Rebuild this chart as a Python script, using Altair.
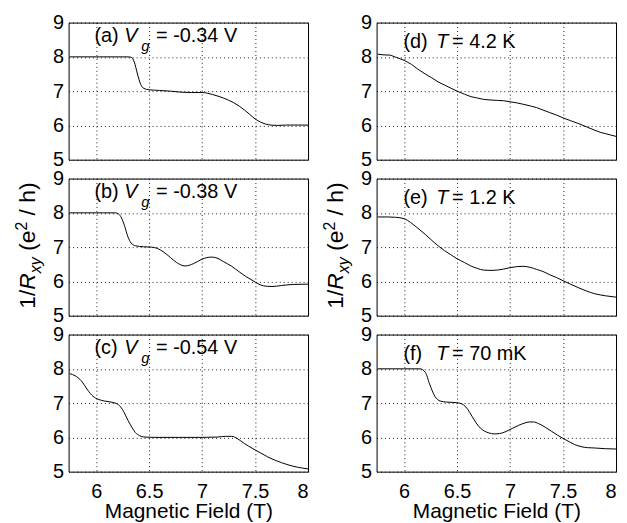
import altair as alt
import pandas as pd

FONT = "Liberation Sans"
NB = "\u00a0"

# ---------------- data ----------------
# (a) Vg = -0.34 V
B_a = [5.75, 6.0, 6.2, 6.3, 6.33, 6.36, 6.39, 6.42, 6.45, 6.5, 6.6, 6.7, 6.8, 6.9, 7.0,
       7.05, 7.1, 7.2, 7.3, 7.4, 7.45, 7.5, 7.55, 7.6, 7.65, 7.7, 7.8, 8.0]
G_a = [8.0, 8.0, 8.0, 8.0, 7.99, 7.85, 7.5, 7.2, 7.08, 7.04, 7.02, 7.0, 6.97, 6.96, 6.96,
       6.94, 6.9, 6.8, 6.66, 6.45, 6.32, 6.19, 6.1, 6.04, 6.01, 6.0, 6.01, 6.01]
# (b) Vg = -0.38 V
B_b = [5.75, 6.0, 6.18, 6.21, 6.24, 6.27, 6.3, 6.33, 6.37, 6.45, 6.52, 6.58, 6.64, 6.7, 6.76,
       6.84, 6.92, 7.0, 7.09, 7.15, 7.2, 7.28, 7.35, 7.42, 7.48, 7.53, 7.58, 7.66, 7.75, 7.85, 8.0]
G_b = [8.0, 8.0, 8.0, 7.97, 7.85, 7.6, 7.3, 7.12, 7.04, 7.01, 7.0, 6.96, 6.85, 6.7, 6.55,
       6.45, 6.52, 6.65, 6.71, 6.67, 6.58, 6.44, 6.28, 6.13, 6.02, 5.93, 5.87, 5.85, 5.88, 5.91, 5.92]
# (c) Vg = -0.54 V
B_c = [5.75, 5.8, 5.86, 5.92, 5.97, 6.02, 6.08, 6.14, 6.18, 6.22, 6.26, 6.3, 6.34, 6.37, 6.41,
       6.45, 6.55, 6.8, 7.0, 7.15, 7.22, 7.28, 7.33, 7.4, 7.48, 7.55, 7.62, 7.7, 7.8, 7.9, 8.0]
G_c = [7.86, 7.8, 7.65, 7.38, 7.2, 7.11, 7.06, 7.03, 7.0, 6.93, 6.75, 6.5, 6.28, 6.14, 6.05,
       6.01, 6.0, 6.0, 6.0, 6.01, 6.03, 6.03, 5.97, 5.82, 5.67, 5.55, 5.43, 5.32, 5.21, 5.13, 5.08]
# (d) T = 4.2 K
B_d = [5.75, 5.8, 5.87, 5.93, 6.0, 6.07, 6.13, 6.2, 6.26, 6.32, 6.38, 6.44, 6.5, 6.57, 6.63,
       6.69, 6.75, 6.82, 6.88, 6.94, 7.0, 7.06, 7.12, 7.19, 7.25, 7.31, 7.37, 7.44, 7.5, 7.57,
       7.65, 7.72, 7.8, 7.85, 7.9, 7.95, 8.0]
G_d = [8.08, 8.06, 8.05, 7.98, 7.9, 7.78, 7.64, 7.5, 7.39, 7.27, 7.18, 7.09, 7.0, 6.91, 6.84,
       6.8, 6.76, 6.74, 6.73, 6.72, 6.69, 6.66, 6.62, 6.57, 6.52, 6.45, 6.38, 6.3, 6.22, 6.14,
       6.05, 5.96, 5.86, 5.8, 5.76, 5.72, 5.68]
# (e) T = 1.2 K
B_e = [5.75, 5.85, 5.92, 6.0, 6.06, 6.13, 6.2, 6.26, 6.32, 6.38, 6.44, 6.5, 6.57, 6.63, 6.69,
       6.75, 6.82, 6.88, 6.94, 7.0, 7.06, 7.12, 7.19, 7.25, 7.31, 7.37, 7.44, 7.5, 7.57, 7.65,
       7.72, 7.8, 7.9, 8.0]
G_e = [7.88, 7.88, 7.87, 7.83, 7.72, 7.55, 7.37, 7.2, 7.04, 6.9, 6.78, 6.66, 6.55, 6.45, 6.38,
       6.33, 6.32, 6.33, 6.36, 6.4, 6.43, 6.44, 6.41, 6.35, 6.29, 6.2, 6.11, 6.02, 5.92, 5.81,
       5.72, 5.64, 5.58, 5.54]
# (f) T = 70 mK
B_f = [5.75, 6.0, 6.15, 6.2, 6.24, 6.29, 6.34, 6.4, 6.46, 6.52, 6.56, 6.6, 6.64, 6.68, 6.72,
       6.76, 6.8, 6.85, 6.9, 6.96, 7.02, 7.08, 7.14, 7.18, 7.22, 7.27, 7.33, 7.39, 7.45, 7.5,
       7.56, 7.61, 7.67, 7.73, 7.8, 7.9, 8.0]
G_f = [8.0, 8.0, 8.0, 7.9, 7.56, 7.2, 7.06, 7.03, 7.02, 7.0, 6.95, 6.82, 6.62, 6.42, 6.27,
       6.18, 6.13, 6.1, 6.11, 6.17, 6.26, 6.35, 6.42, 6.45, 6.45, 6.4, 6.3, 6.18, 6.06, 5.97,
       5.87, 5.79, 5.73, 5.7, 5.69, 5.67, 5.66]

X_TICKS = [6, 6.5, 7, 7.5, 8]
Y_TICKS = [5, 6, 7, 8, 9]
X_DOMAIN = [5.74, 8.0]
Y_DOMAIN = [5, 9]

PANEL_LABELS_V = [("(a)", "-0.34 V"), ("(b)", "-0.38 V"), ("(c)", "-0.54 V")]
PANEL_LABELS_T = [("(d)", "4.2 K"), ("(e)", "1.2 K"), ("(f)", "70 mK")]
X_TITLE = "Magnetic Field (T)"

W, H = 241, 138

# Arial/Liberation Sans advance widths (per 1000 em) for title layout
ADV = {'1': 556, '/': 278, 'R': 722, 'x': 500, 'y': 500, ' ': 278, '(': 333,
       'e': 556, '2': 556, 'h': 556, ')': 333}


def width(s, size):
    return sum(ADV.get(c, 556) for c in s) * size / 1000.0


def txt(s, x, y, size, italic=False, angle=0):
    return alt.Chart(pd.DataFrame({"t": [s]})).mark_text(
        font=FONT, fontSize=size, fontStyle="italic" if italic else "normal",
        align="left", baseline="alphabetic", angle=angle, color="black"
    ).encode(text="t:N", x=alt.value(x), y=alt.value(y))


def ytitle_layers():
    # rotated "1/R_xy (e^2 / h)" built from pieces, reading bottom-to-top
    # (text, size, italic, baseline shift, space before)
    pieces = [("1/", 23, False, 0, 0), ("R", 23, True, 0, 0), ("xy", 16, True, 6, 0),
              ("(e", 23, False, 0, 1), ("2", 16, False, -8, 0),
              ("/", 23, False, 0, 1), ("h)", 23, False, 0, 1)]
    xb, y0 = -34, 131
    out = []
    off = 0.0
    for s, size, it, shift, sp in pieces:
        off += sp * width(" ", 23)
        out.append(txt(s, xb + shift, y0 - off, size, it, angle=270))
        off += width(s, size)
    return out


def panel(B, G, label_layers, bottom, ytitle, interp):
    df = pd.DataFrame({"B": B, "G": G})
    xkw = dict(values=X_TICKS, format="~g", grid=True, ticks=False, domain=False,
               labels=bottom, labelFontSize=20, labelPadding=10, labelFont=FONT,
               labelColor="black")
    if bottom:
        xkw.update(title=X_TITLE, titleFontSize=21, titleFont=FONT, titleFontWeight="normal",
                   titleColor="black", titlePadding=-1)
    else:
        xkw.update(title="")
    ykw = dict(values=Y_TICKS, format="d", grid=True, ticks=False, domain=False,
               labelFontSize=20, labelPadding=5, labelFont=FONT, labelColor="black", title="")
    line = alt.Chart(df).mark_line(
        interpolate=interp, color="black", strokeWidth=1
    ).encode(
        x=alt.X("B:Q", scale=alt.Scale(domain=X_DOMAIN, nice=False, zero=False),
                axis=alt.Axis(**xkw)),
        y=alt.Y("G:Q", scale=alt.Scale(domain=Y_DOMAIN, nice=False, zero=False),
                axis=alt.Axis(**ykw)),
    )
    layers = [line] + label_layers
    if ytitle:
        layers += ytitle_layers()
    return alt.layer(*layers).properties(width=W, height=H)


def vg_label(tag, val):
    base = 20
    return [txt(tag, 26, base, 20), txt("V", 56, base, 20, True),
            txt("g", 73, base + 9, 15, True), txt("=" + NB + val, 88, base, 20)]


def t_label(tag, val):
    base = 26
    return [txt(tag, 27, base, 20), txt("T", 60, base, 20, True),
            txt("=" + NB + val, 76, base, 20)]


panels = [
    panel(B_a, G_a, vg_label(*PANEL_LABELS_V[0]), False, False, "monotone"),
    panel(B_d, G_d, t_label(*PANEL_LABELS_T[0]), False, False, "linear"),
    panel(B_b, G_b, vg_label(*PANEL_LABELS_V[1]), False, True, "monotone"),
    panel(B_e, G_e, t_label(*PANEL_LABELS_T[1]), False, True, "monotone"),
    panel(B_c, G_c, vg_label(*PANEL_LABELS_V[2]), True, False, "monotone"),
    panel(B_f, G_f, t_label(*PANEL_LABELS_T[2]), True, False, "monotone"),
]

chart = alt.concat(
    *panels, columns=2, spacing={"row": 19, "column": 69}, bounds="flush"
).properties(
    padding={"left": 5, "top": 2, "right": 0, "bottom": 0}
).configure_view(
    stroke="black", strokeWidth=1
).configure_axis(
    gridColor="black", gridDash=[1, 3], gridOpacity=0.9, gridWidth=1
)

chart.save("out.html", embed_options={"renderer": "svg", "actions": False})
